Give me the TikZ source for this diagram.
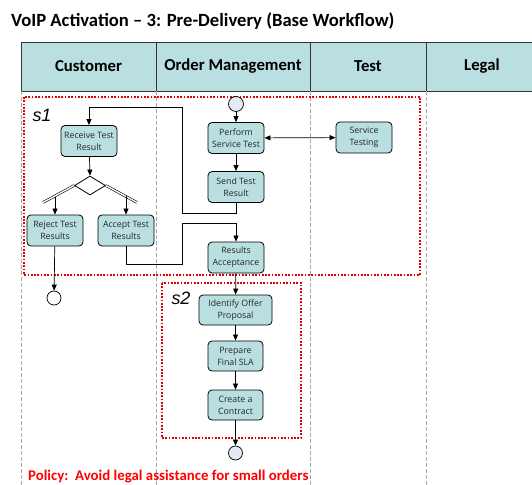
\documentclass[tikz,border=0pt]{standalone}
\usepackage{fontspec}
\setmainfont{Carlito}
\newfontfamily\nodefont{Open Sans}
\newfontfamily\labfont{Liberation Sans}
\usetikzlibrary{shapes.geometric,arrows.meta}
\definecolor{cellfill}{HTML}{BADFE1}
\definecolor{taskfill}{HTML}{B9DFE0}
\definecolor{evfill}{HTML}{E4EAF4}
\definecolor{policyred}{HTML}{FF0000}
\definecolor{scopered}{HTML}{E00000}
\definecolor{lanegrey}{HTML}{A8A8A8}
\tikzset{
  hdr/.style={draw=black!80, line width=0.8bp, fill=cellfill, minimum height=49bp, inner sep=0,
    font=\fontsize{16.8}{19}\selectfont\bfseries},
  task/.style={draw=black, line width=0.8bp, fill=taskfill, rounded corners=4bp,
    minimum width=56bp, minimum height=31bp, inner sep=0, align=center, text=black!85,
    font=\nodefont\fontsize{8.8}{12}\selectfont},
  event/.style={draw=black, line width=0.7bp, circle, minimum size=15bp, inner sep=0, fill=evfill},
  endev/.style={draw=black, line width=0.7bp, circle, minimum size=14bp, inner sep=0, fill=white},
  flow/.style={draw=black, line width=0.7bp, -{Triangle[length=6bp,width=5bp]}},
  scopebox/.style={draw=scopered, line width=1.7bp, dash pattern=on 1.7bp off 1.6bp},
  laneline/.style={draw=lanegrey, line width=0.8bp, dash pattern=on 4bp off 2bp},
  forkline/.style={draw=black, line width=0.6bp, double=white, double distance=1.4bp},
  scopelabel/.style={font=\labfont\itshape\fontsize{18}{20}\selectfont, inner sep=0}
}
\begin{document}
\begin{tikzpicture}[x=1bp, y=-1bp]
\clip (0,0) rectangle (532,485);
\fill[white] (0,0) rectangle (532,485);

% title
\node[anchor=west, inner sep=0, font=\fontsize{18.7}{22}\selectfont\bfseries] (title) at (11,21)
  {VoIP Activation – 3: Pre-Delivery (Base Workflow)};

% swimlane header
\node[hdr, minimum width=135bp] (hcust) at (88.5,66.5) {Customer};
\node[hdr, minimum width=154bp] (hord) at (233,66.5) {Order Management};
\node[hdr, minimum width=116bp] (htest) at (368,66.5) {Test};
\node[hdr, minimum width=112bp] (hleg) at (482,66.5) {Legal};

% lane separators
\foreach \lx in {21,156,310,426}
  \draw[laneline] (\lx,91) -- (\lx,485);

% scopes
\draw[scopebox] (24,97) rectangle (420,275);
\draw[scopebox] (162,283) rectangle (301,438);
\node[scopelabel] (s1) at (42,115) {s1};
\node[scopelabel] (s2) at (181,298) {s2};

% tasks
\node[task] (receive) at (89,141) {Receive Test\\Result};
\node[task] (perform) at (236,138) {Perform\\Service Test};
\node[task] (stest) at (364,137.5) {Service\\Testing};
\node[task] (send) at (236,187) {Send Test\\Result};
\node[task] (resacc) at (236,257.5) {Results\\Acceptance};
\node[task] (reject) at (55,230.5) {Reject Test\\Results};
\node[task] (accept) at (126,230.5) {Accept Test\\Results};
\node[task, minimum width=73bp, minimum height=30bp] (identify) at (235.5,310) {Identify Offer\\Proposal};
\node[task, minimum width=55bp, minimum height=30bp] (prepare) at (235.5,356) {Prepare\\Final SLA};
\node[task, minimum width=55bp, minimum height=30bp] (create) at (235.5,405) {Create a\\Contract};

% events
\node[event] (start) at (236,104) {};
\node[endev] (endrej) at (54,298) {};
\node[event, minimum size=14bp] (endflow) at (235.5,453) {};

% decision with fork
\node[draw=black, line width=0.8bp, fill=white, diamond, aspect=1.63, minimum width=31bp,
  minimum height=19bp, inner sep=0] (dec) at (90,185.5) {};
\coordinate (forkl) at (43,202.5);
\coordinate (forkr) at (137,202.5);
\draw[forkline] (dec.west) -- (forkl);
\draw[forkline] (dec.east) -- (forkr);
\coordinate (outl) at (55,197.5);
\coordinate (outr) at (126,196.5);

% waypoints of the routed connectors
\coordinate (k1) at (182,213);
\coordinate (k2) at (182,107);
\coordinate (k3) at (182,264);
\coordinate (k4) at (182,223);

% connectors
\draw[flow] (start) -- (perform);
\draw[draw=black, line width=0.7bp, {Triangle[length=6bp,width=5bp]}-{Triangle[length=6bp,width=5bp]}] (perform) -- (stest);
\draw[flow] (perform) -- (send);
\draw[flow] (send.south) |- (k1) -- (k2) -| (receive.north);
\draw[flow] (receive) -- (dec.north);
\draw[flow] (outl) -- (reject.north);
\draw[flow] (outr) -- (accept.north);
\draw[flow] (reject) -- (endrej);
\draw[flow] (accept.south) |- (k3) -- (k4) -| (resacc.north);
\draw[flow] (resacc) -- (identify);
\draw[flow] (identify) -- (prepare);
\draw[flow] (prepare) -- (create);
\draw[flow] (create) -- (endflow);

% policy note
\node[anchor=west, inner sep=0, text=policyred, font=\fontsize{14.9}{17}\selectfont\bfseries] (policy) at (28,477)
  {Policy:\ \ Avoid legal assistance for small orders};
\end{tikzpicture}
\end{document}
